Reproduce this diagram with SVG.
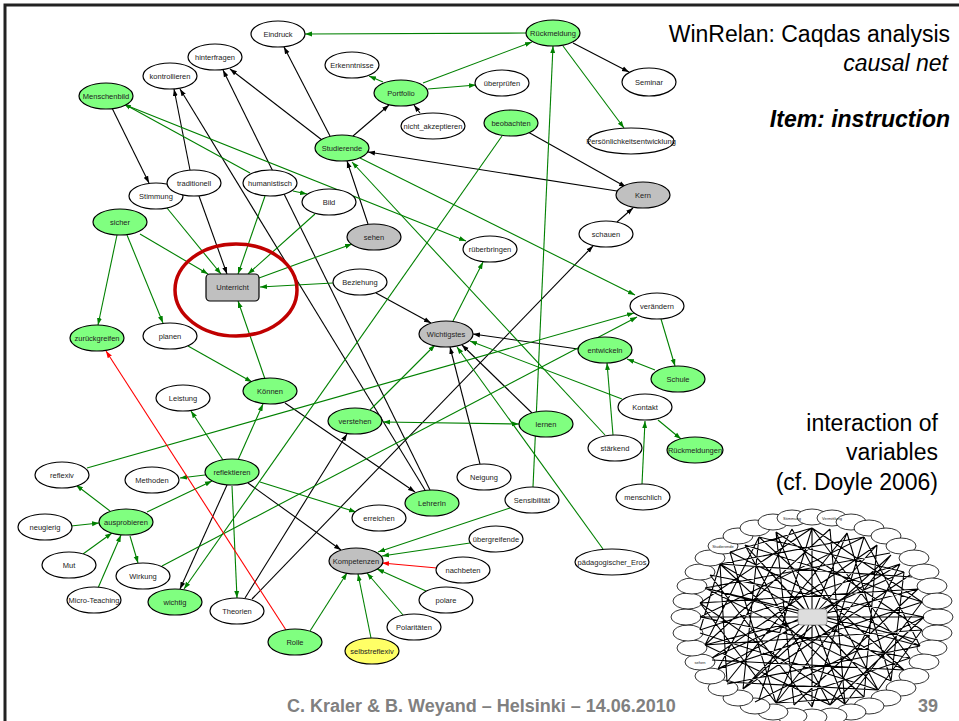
<svg xmlns="http://www.w3.org/2000/svg" width="959" height="721" viewBox="0 0 959 721">
<defs>
<marker id="ak" viewBox="0 0 10 10" refX="10" refY="5" markerWidth="7" markerHeight="7" orient="auto-start-reverse" markerUnits="userSpaceOnUse"><path d="M0,1.5 L10,5 L0,8.5 z" fill="#000"/></marker>
<marker id="ag" viewBox="0 0 10 10" refX="10" refY="5" markerWidth="7" markerHeight="7" orient="auto-start-reverse" markerUnits="userSpaceOnUse"><path d="M0,1.5 L10,5 L0,8.5 z" fill="#008000"/></marker>
<marker id="ar" viewBox="0 0 10 10" refX="10" refY="5" markerWidth="7" markerHeight="7" orient="auto-start-reverse" markerUnits="userSpaceOnUse"><path d="M0,1.5 L10,5 L0,8.5 z" fill="#ff0000"/></marker>
</defs>
<style>
.k{stroke:#000;stroke-width:1.1;fill:none;marker-end:url(#ak)}
.g{stroke:#008000;stroke-width:1.1;fill:none;marker-end:url(#ag)}
.r{stroke:#ff0000;stroke-width:1.1;fill:none;marker-end:url(#ar)}
.n ellipse,.n rect{stroke:#000;stroke-width:1.2}
.w{fill:#fff}.gr{fill:#80ff80}.gy{fill:#c0c0c0}.ye{fill:#ffff66}
text{font-family:"Liberation Sans",Arial,sans-serif}
.n text{font-size:7.5px;fill:#222;text-anchor:middle}
.t{font-size:23px;fill:#000;text-anchor:end}
.f{font-size:18px;font-weight:bold;fill:#808080}
.hl{fill:none;stroke:#c00000;stroke-width:3.5}
.tn{fill:#fff;stroke:#000;stroke-width:0.8}
.tl{stroke:#000;stroke-width:1.1;fill:none}
.tt{font-size:4px;fill:#222;text-anchor:middle}
</style>
<rect x="0" y="0" width="959" height="721" fill="#fff"/>
<rect x="5" y="5" width="970" height="730" fill="none" stroke="#222" stroke-width="3"/>

<g id="titles">
<text class="t" x="950" y="42">WinRelan: Caqdas analysis</text>
<text class="t" x="948" y="71" font-style="italic">causal net</text>
<text class="t" x="950" y="127" font-style="italic" font-weight="bold">Item: instruction</text>
<text class="t" x="938" y="431">interaction of</text>
<text class="t" x="938" y="460">variables</text>
<text class="t" x="938" y="490">(cf. Doyle 2006)</text>
<text class="f" x="287" y="712">C. Kraler &amp; B. Weyand – Helsinki – 14.06.2010</text>
<text class="f" x="938" y="712" text-anchor="end">39</text>
</g>

<g id="connectors">
<line class="k" x1="330" y1="136" x2="284" y2="47"/>
<line class="k" x1="322" y1="140" x2="230" y2="69"/>
<line class="k" x1="190" y1="170" x2="174" y2="89"/>
<line class="k" x1="425" y1="490" x2="180" y2="89"/>
<line class="k" x1="430" y1="490" x2="223" y2="70"/>
<line class="k" x1="112" y1="108" x2="149" y2="183"/>
<line class="k" x1="199" y1="196" x2="227" y2="274"/>
<line class="k" x1="368" y1="224" x2="347" y2="161"/>
<line class="k" x1="353" y1="136" x2="389" y2="105"/>
<line class="k" x1="420" y1="113" x2="414" y2="105"/>
<line class="k" x1="617" y1="191" x2="368" y2="152"/>
<line class="k" x1="528" y1="132" x2="626" y2="187"/>
<line class="k" x1="617" y1="222" x2="633" y2="208"/>
<line class="k" x1="573" y1="43" x2="629" y2="72"/>
<line class="k" x1="376" y1="293" x2="431" y2="323"/>
<line class="k" x1="578" y1="349" x2="473" y2="334"/>
<line class="k" x1="532" y1="413" x2="462" y2="345"/>
<line class="k" x1="480" y1="464" x2="450" y2="347"/>
<line class="k" x1="285" y1="403" x2="415" y2="492"/>
<line class="k" x1="227" y1="485" x2="180" y2="589"/>
<line class="k" x1="248" y1="483" x2="341" y2="550"/>
<line class="k" x1="245" y1="598" x2="347" y2="434"/>
<line class="k" x1="252" y1="599" x2="593" y2="246"/>

<line class="g" x1="527" y1="33" x2="305" y2="34"/>
<line class="g" x1="423" y1="83" x2="532" y2="42"/>
<line class="g" x1="383" y1="82" x2="369" y2="76"/>
<line class="g" x1="428" y1="89" x2="476" y2="85"/>
<line class="g" x1="563" y1="46" x2="624" y2="128"/>
<line class="g" x1="533" y1="487" x2="553" y2="46"/>
<line class="g" x1="250" y1="173" x2="124" y2="104"/>
<line class="g" x1="128" y1="106" x2="466" y2="241"/>
<line class="g" x1="293" y1="191" x2="307" y2="194"/>
<line class="g" x1="167" y1="208" x2="221" y2="274"/>
<line class="g" x1="265" y1="196" x2="238" y2="274"/>
<line class="g" x1="315" y1="214" x2="248" y2="274"/>
<line class="g" x1="140" y1="234" x2="208" y2="274"/>
<line class="g" x1="117" y1="235" x2="98" y2="325"/>
<line class="g" x1="127" y1="235" x2="163" y2="323"/>
<line class="g" x1="333" y1="283" x2="260" y2="287"/>
<line class="g" x1="259" y1="278" x2="352" y2="244"/>
<line class="g" x1="188" y1="346" x2="252" y2="382"/>
<line class="g" x1="265" y1="379" x2="238" y2="301"/>
<line class="g" x1="223" y1="460" x2="191" y2="411"/>
<line class="g" x1="238" y1="460" x2="263" y2="404"/>
<line class="g" x1="605" y1="435" x2="352" y2="162"/>
<line class="g" x1="360" y1="158" x2="635" y2="295"/>
<line class="g" x1="87" y1="468" x2="634" y2="313"/>
<line class="g" x1="162" y1="566" x2="637" y2="317"/>
<line class="g" x1="661" y1="319" x2="675" y2="366"/>
<line class="g" x1="502" y1="136" x2="184" y2="589"/>
<line class="g" x1="453" y1="321" x2="483" y2="262"/>
<line class="g" x1="370" y1="410" x2="435" y2="345"/>
<line class="g" x1="519" y1="424" x2="383" y2="422" marker-start="url(#ag)"/>
<line class="g" x1="603" y1="549" x2="457" y2="347"/>
<line class="g" x1="622" y1="399" x2="470" y2="341"/>
<line class="g" x1="655" y1="370" x2="627" y2="359"/>
<line class="g" x1="613" y1="435" x2="607" y2="363"/>
<line class="g" x1="642" y1="484" x2="645" y2="421"/>
<line class="g" x1="658" y1="420" x2="681" y2="439"/>
<line class="g" x1="205" y1="475" x2="180" y2="478"/>
<line class="g" x1="147" y1="512" x2="212" y2="481"/>
<line class="g" x1="232" y1="486" x2="237" y2="598"/>
<line class="g" x1="260" y1="482" x2="356" y2="512"/>
<line class="g" x1="110" y1="511" x2="76" y2="485"/>
<line class="g" x1="71" y1="526" x2="99" y2="523"/>
<line class="g" x1="83" y1="554" x2="112" y2="533"/>
<line class="g" x1="98" y1="588" x2="121" y2="535"/>
<line class="g" x1="130" y1="536" x2="138" y2="563"/>
<line class="g" x1="510" y1="508" x2="378" y2="552"/>
<line class="g" x1="470" y1="543" x2="382" y2="556"/>
<line class="g" x1="426" y1="591" x2="377" y2="569"/>
<line class="g" x1="403" y1="615" x2="367" y2="573"/>
<line class="g" x1="371" y1="638" x2="358" y2="574"/>
<line class="g" x1="310" y1="631" x2="347" y2="573"/>

<line class="r" x1="437" y1="568" x2="382" y2="563"/>
<line class="r" x1="286" y1="630" x2="106" y2="351"/>
</g>

<ellipse class="hl" cx="236" cy="290" rx="61" ry="46"/>

<g class="n">
<g id="n-eindruck"><ellipse class="w" cx="278" cy="34" rx="27" ry="13"/><text x="278" y="37">Eindruck</text></g>
<g id="n-hinterfragen"><ellipse class="w" cx="215" cy="57" rx="27" ry="13"/><text x="215" y="60">hinterfragen</text></g>
<g id="n-kontrollieren"><ellipse class="w" cx="170" cy="76" rx="27" ry="13"/><text x="170" y="79">kontrollieren</text></g>
<g id="n-menschenbild"><ellipse class="gr" cx="106" cy="96" rx="27" ry="13"/><text x="106" y="99">Menschenbild</text></g>
<g id="n-erkenntnisse"><ellipse class="w" cx="352" cy="65" rx="27" ry="13"/><text x="352" y="68">Erkenntnisse</text></g>
<g id="n-rueckmeldung"><ellipse class="gr" cx="553" cy="33" rx="27" ry="13"/><text x="553" y="36">Rückmeldung</text></g>
<g id="n-portfolio"><ellipse class="gr" cx="401" cy="93" rx="27" ry="13"/><text x="401" y="96">Portfolio</text></g>
<g id="n-ueberpruefen"><ellipse class="w" cx="502" cy="83" rx="27" ry="13"/><text x="502" y="86">überprüfen</text></g>
<g id="n-nicht_akzeptieren"><ellipse class="w" cx="433" cy="126" rx="32" ry="13"/><text x="433" y="129">nicht_akzeptieren</text></g>
<g id="n-beobachten"><ellipse class="gr" cx="511" cy="123" rx="27" ry="13"/><text x="511" y="126">beobachten</text></g>
<g id="n-studierende"><ellipse class="gr" cx="342" cy="148" rx="27" ry="13"/><text x="342" y="151">Studierende</text></g>
<g id="n-seminar"><ellipse class="w" cx="649" cy="82" rx="27" ry="14"/><text x="649" y="85">Seminar</text></g>
<g id="n-persoenlichkeitsentwicklung"><ellipse class="w" cx="631" cy="141" rx="43" ry="13"/><text x="631" y="144" font-size="6.7">Persönlichkeitsentwicklung</text></g>
<g id="n-kern"><ellipse class="gy" cx="643" cy="195" rx="27" ry="13"/><text x="643" y="198">Kern</text></g>
<g id="n-schauen"><ellipse class="w" cx="606" cy="234" rx="27" ry="13"/><text x="606" y="237">schauen</text></g>
<g id="n-stimmung"><ellipse class="w" cx="156" cy="196" rx="27" ry="13"/><text x="156" y="199">Stimmung</text></g>
<g id="n-traditionell"><ellipse class="w" cx="194" cy="183" rx="27" ry="13"/><text x="194" y="186">traditionell</text></g>
<g id="n-humanistisch"><ellipse class="w" cx="270" cy="183" rx="27" ry="13"/><text x="270" y="186">humanistisch</text></g>
<g id="n-bild"><ellipse class="w" cx="329" cy="202" rx="27" ry="13"/><text x="329" y="205">Bild</text></g>
<g id="n-sicher"><ellipse class="gr" cx="120" cy="222" rx="27" ry="13"/><text x="120" y="225">sicher</text></g>
<g id="n-sehen"><ellipse class="gy" cx="374" cy="237" rx="27" ry="13"/><text x="374" y="240">sehen</text></g>
<g id="n-rueberbringen"><ellipse class="w" cx="490" cy="249" rx="27" ry="13"/><text x="490" y="252">rüberbringen</text></g>
<g id="n-unterricht"><rect class="gy" x="206" y="274" width="53" height="27" rx="4"/><text x="232.5" y="290">Unterricht</text></g>
<g id="n-beziehung"><ellipse class="w" cx="360" cy="282" rx="27" ry="13"/><text x="360" y="285">Beziehung</text></g>
<g id="n-veraendern"><ellipse class="w" cx="657" cy="306" rx="27" ry="13"/><text x="657" y="309">verändern</text></g>
<g id="n-zurueckgreifen"><ellipse class="gr" cx="97" cy="338" rx="27" ry="13"/><text x="97" y="341">zurückgreifen</text></g>
<g id="n-planen"><ellipse class="w" cx="170" cy="336" rx="27" ry="13"/><text x="170" y="339">planen</text></g>
<g id="n-wichtigstes"><ellipse class="gy" cx="446" cy="334" rx="27" ry="13"/><text x="446" y="337">Wichtigstes</text></g>
<g id="n-entwickeln"><ellipse class="gr" cx="605" cy="350" rx="27" ry="13"/><text x="605" y="353">entwickeln</text></g>
<g id="n-schule"><ellipse class="gr" cx="678" cy="379" rx="27" ry="13"/><text x="678" y="382">Schule</text></g>
<g id="n-kontakt"><ellipse class="w" cx="645" cy="407" rx="27" ry="13"/><text x="645" y="410">Kontakt</text></g>
<g id="n-rueckmeldungen"><ellipse class="gr" cx="695" cy="450" rx="28" ry="13"/><text x="695" y="453">Rückmeldungen</text></g>
<g id="n-leistung"><ellipse class="w" cx="183" cy="398" rx="27" ry="13"/><text x="183" y="401">Leistung</text></g>
<g id="n-koennen"><ellipse class="gr" cx="270" cy="391" rx="27" ry="13"/><text x="270" y="394">Können</text></g>
<g id="n-verstehen"><ellipse class="gr" cx="355" cy="421" rx="27" ry="13"/><text x="355" y="424">verstehen</text></g>
<g id="n-lernen"><ellipse class="gr" cx="546" cy="424" rx="27" ry="13"/><text x="546" y="427">lernen</text></g>
<g id="n-staerkend"><ellipse class="w" cx="615" cy="448" rx="27" ry="13"/><text x="615" y="451">stärkend</text></g>
<g id="n-menschlich"><ellipse class="w" cx="643" cy="497" rx="27" ry="13"/><text x="643" y="500">menschlich</text></g>
<g id="n-reflexiv"><ellipse class="w" cx="62" cy="475" rx="27" ry="13"/><text x="62" y="478">reflexiv</text></g>
<g id="n-methoden"><ellipse class="w" cx="152" cy="480" rx="27" ry="13"/><text x="152" y="483">Methoden</text></g>
<g id="n-reflektieren"><ellipse class="gr" cx="232" cy="472" rx="27" ry="13"/><text x="232" y="475">reflektieren</text></g>
<g id="n-neugierig"><ellipse class="w" cx="45" cy="527" rx="27" ry="13"/><text x="45" y="530">neugierig</text></g>
<g id="n-ausprobieren"><ellipse class="gr" cx="126" cy="522" rx="27" ry="13"/><text x="126" y="525">ausprobieren</text></g>
<g id="n-mut"><ellipse class="w" cx="69" cy="565" rx="27" ry="13"/><text x="69" y="568">Mut</text></g>
<g id="n-wirkung"><ellipse class="w" cx="143" cy="576" rx="27" ry="13"/><text x="143" y="579">Wirkung</text></g>
<g id="n-micro-teaching"><ellipse class="w" cx="94" cy="600" rx="27" ry="13"/><text x="94" y="603">Micro-Teaching</text></g>
<g id="n-wichtig"><ellipse class="gr" cx="175" cy="602" rx="27" ry="13"/><text x="175" y="605">wichtig</text></g>
<g id="n-theorien"><ellipse class="w" cx="237" cy="611" rx="27" ry="13"/><text x="237" y="614">Theorien</text></g>
<g id="n-rolle"><ellipse class="gr" cx="295" cy="642" rx="27" ry="13"/><text x="295" y="645">Rolle</text></g>
<g id="n-neigung"><ellipse class="w" cx="484" cy="477" rx="27" ry="13"/><text x="484" y="480">Neigung</text></g>
<g id="n-lehrerin"><ellipse class="gr" cx="432" cy="503" rx="27" ry="13"/><text x="432" y="506">LehrerIn</text></g>
<g id="n-erreichen"><ellipse class="w" cx="379" cy="518" rx="27" ry="13"/><text x="379" y="521">erreichen</text></g>
<g id="n-sensibilitaet"><ellipse class="w" cx="532" cy="500" rx="27" ry="13"/><text x="532" y="503">Sensibilität</text></g>
<g id="n-uebergreifende"><ellipse class="w" cx="496" cy="539" rx="27" ry="13"/><text x="496" y="542">übergreifende</text></g>
<g id="n-kompetenzen"><ellipse class="gy" cx="356" cy="561" rx="27" ry="13"/><text x="356" y="564">Kompetenzen</text></g>
<g id="n-nachbeten"><ellipse class="w" cx="463" cy="570" rx="27" ry="13"/><text x="463" y="573">nachbeten</text></g>
<g id="n-paedagogischer_eros"><ellipse class="w" cx="612" cy="562" rx="37" ry="13"/><text x="612" y="565">pädagogischer_Eros</text></g>
<g id="n-polare"><ellipse class="w" cx="446" cy="600" rx="27" ry="13"/><text x="446" y="603">polare</text></g>
<g id="n-polaritaeten"><ellipse class="w" cx="414" cy="627" rx="27" ry="13"/><text x="414" y="630">Polaritäten</text></g>
<g id="n-selbstreflexiv"><ellipse class="ye" cx="372" cy="651" rx="27" ry="13"/><text x="372" y="654">selbstreflexiv</text></g>
</g>

<g id="thumbnail">
<ellipse class="tn" cx="938" cy="617" rx="15" ry="8"/>
<ellipse class="tn" cx="937" cy="633" rx="15" ry="8"/>
<ellipse class="tn" cx="932" cy="648" rx="15" ry="8"/>
<ellipse class="tn" cx="924" cy="662" rx="15" ry="8"/>
<ellipse class="tn" cx="914" cy="676" rx="15" ry="8"/>
<ellipse class="tn" cx="901" cy="688" rx="15" ry="8"/>
<ellipse class="tn" cx="886" cy="698" rx="15" ry="8"/>
<ellipse class="tn" cx="869" cy="706" rx="15" ry="8"/>
<ellipse class="tn" cx="851" cy="712" rx="15" ry="8"/>
<ellipse class="tn" cx="832" cy="716" rx="15" ry="8"/>
<ellipse class="tn" cx="812" cy="717" rx="15" ry="8"/>
<ellipse class="tn" cx="792" cy="716" rx="15" ry="8"/>
<ellipse class="tn" cx="773" cy="712" rx="15" ry="8"/>
<ellipse class="tn" cx="755" cy="706" rx="15" ry="8"/>
<ellipse class="tn" cx="738" cy="698" rx="15" ry="8"/>
<ellipse class="tn" cx="723" cy="688" rx="15" ry="8"/>
<ellipse class="tn" cx="710" cy="676" rx="15" ry="8"/>
<ellipse class="tn" cx="700" cy="662" rx="15" ry="8"/>
<ellipse class="tn" cx="692" cy="648" rx="15" ry="8"/>
<ellipse class="tn" cx="688" cy="633" rx="15" ry="8"/>
<ellipse class="tn" cx="686" cy="617" rx="15" ry="8"/>
<ellipse class="tn" cx="688" cy="601" rx="15" ry="8"/>
<ellipse class="tn" cx="692" cy="586" rx="15" ry="8"/>
<ellipse class="tn" cx="700" cy="572" rx="15" ry="8"/>
<ellipse class="tn" cx="710" cy="558" rx="15" ry="8"/>
<ellipse class="tn" cx="723" cy="546" rx="15" ry="8"/>
<ellipse class="tn" cx="738" cy="536" rx="15" ry="8"/>
<ellipse class="tn" cx="755" cy="528" rx="15" ry="8"/>
<ellipse class="tn" cx="773" cy="522" rx="15" ry="8"/>
<ellipse class="tn" cx="792" cy="518" rx="15" ry="8"/>
<ellipse class="tn" cx="812" cy="517" rx="15" ry="8"/>
<ellipse class="tn" cx="832" cy="518" rx="15" ry="8"/>
<ellipse class="tn" cx="851" cy="522" rx="15" ry="8"/>
<ellipse class="tn" cx="869" cy="528" rx="15" ry="8"/>
<ellipse class="tn" cx="886" cy="536" rx="15" ry="8"/>
<ellipse class="tn" cx="901" cy="546" rx="15" ry="8"/>
<ellipse class="tn" cx="914" cy="558" rx="15" ry="8"/>
<ellipse class="tn" cx="924" cy="572" rx="15" ry="8"/>
<ellipse class="tn" cx="932" cy="586" rx="15" ry="8"/>
<ellipse class="tn" cx="937" cy="601" rx="15" ry="8"/>
<text class="tt" x="723" y="547.5">Studierende</text>
<text class="tt" x="832" y="519.5">Vermittlung</text>
<text class="tt" x="792" y="519.5">Stimmung</text>
<text class="tt" x="700" y="663.5">sehen</text>
<path class="tl" d="M924 617L755 702M920 646L727 684M904 670L712 660M878 690L700 633M845 704L700 603M812 707L710 575M776 703L730 552M743 689L759 537M718 669L792 529M705 645L830 529M700 617L864 537M705 588L890 553M720 564L912 577M745 545L922 602M776 532L922 630M812 528L910 658M847 533L891 681M877 545L864 697M900 564L830 705M918 589L794 705
M922 630L705 645M910 658L700 617M891 681L705 588M864 697L720 564M830 705L745 545M794 705L776 532M759 700L812 528M727 682L847 533M712 658L877 545M700 630L900 564M700 603L918 589M710 575L924 617M730 552L920 646M759 537L904 670M792 529L878 690M830 529L845 704M864 537L812 707M891 555L776 703M910 575L743 689M922 602L718 669
M924 617L830 705M910 658L776 703M878 690L727 682M830 705L705 645M776 703L700 603M727 682L720 564M705 645L759 537M700 603L812 528M720 564L864 537M759 537L904 572M812 528L922 602M864 537L920 646M904 572L891 681M922 602L845 704
M922 630L878 690M864 697L776 703M700 630L720 564M730 552L812 528M700 617L924 617M812 528L812 707M745 545L878 690M743 689L891 555M705 588L918 640M712 658L904 572
M812 617L924 617M812 617L920 646M812 617L904 670M812 617L878 690M812 617L845 704M812 617L812 707M812 617L776 703M812 617L743 689M812 617L718 669M812 617L705 645M812 617L700 617M812 617L705 588M812 617L720 564M812 617L745 545M812 617L776 532M812 617L812 528M812 617L847 533M812 617L877 545M812 617L900 564M812 617L918 589"/>
<rect x="798" y="609" width="29" height="16" rx="3" fill="#ddd" stroke="#888" stroke-width="0.8"/>
</g>
</svg>
